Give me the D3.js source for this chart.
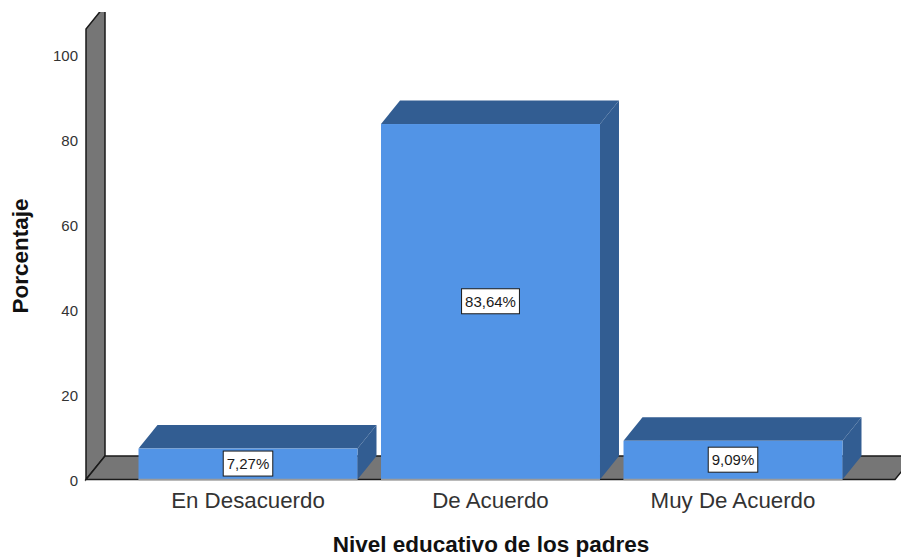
<!DOCTYPE html>
<html>
<head>
<meta charset="utf-8">
<script src="https://cdn.jsdelivr.net/npm/d3@7"></script>
<style>
  html, body { margin: 0; padding: 0; background: #fff; }
  text { font-family: "Liberation Sans", Arial, sans-serif; }
</style>
</head>
<body>
<svg id="chart"></svg>
<script>
const categories = ["En Desacuerdo", "De Acuerdo", "Muy De Acuerdo"];
const percentages = [7.27, 83.64, 9.09];
const percentLabels = ["7,27%", "83,64%", "9,09%"];
const yTicks = [0, 20, 40, 60, 80, 100];

const width = 901, height = 557;
// 3d offset of the back edge
const depthX = 19, depthY = -23.5;
const wallTop = 106;

const svg = d3.select("#chart")
    .attr("width", width)
    .attr("height", height)
    .style("display", "block");

// picture is cut at the top and the right
svg.append("clipPath").attr("id", "plotClip")
    .append("rect")
    .attr("x", 0).attr("y", 12)
    .attr("width", width).attr("height", height - 12);

const x = d3.scaleBand()
    .domain(categories)
    .range([126.75, 854.25])
    .paddingInner(0.097)
    .paddingOuter(0.0485);

const y = d3.scaleLinear()
    .domain([0, 100])
    .range([479.5, 54.5]);

const floorLeft = 86, floorRight = 895;
const chart = svg.append("g").attr("clip-path", "url(#plotClip)");
const poly = pts => pts.map(p => p.join(",")).join(" ");

// left wall
chart.append("polygon")
    .attr("points", poly([
        [floorLeft, y(0)],
        [floorLeft, y(wallTop)],
        [floorLeft + depthX, y(wallTop) + depthY],
        [floorLeft + depthX, y(0) + depthY]
    ]))
    .attr("fill", "#767676")
    .attr("stroke", "#1a1a1a")
    .attr("stroke-width", 1.5);

// floor
chart.append("polygon")
    .attr("points", poly([
        [floorLeft, y(0)],
        [floorLeft + depthX, y(0) + depthY],
        [floorRight + depthX, y(0) + depthY],
        [floorRight, y(0)]
    ]))
    .attr("fill", "#767676")
    .attr("stroke", "#1a1a1a")
    .attr("stroke-width", 1.5);

// bars
const bar = chart.append("g")
    .selectAll("g")
    .data(categories)
    .join("g");

const val = i => percentages[i];

// top face
bar.append("polygon")
    .attr("points", (d, i) => {
        const x0 = x(d), x1 = x(d) + x.bandwidth(), t = y(val(i));
        return poly([[x0, t], [x0 + depthX, t + depthY], [x1 + depthX, t + depthY], [x1, t]]);
    })
    .attr("fill", "#325D92");

// side face
bar.append("polygon")
    .attr("points", (d, i) => {
        const x1 = x(d) + x.bandwidth(), t = y(val(i));
        return poly([[x1, t], [x1 + depthX, t + depthY], [x1 + depthX, y(0) + depthY], [x1, y(0)]]);
    })
    .attr("fill", "#325D92");

// front face
bar.append("rect")
    .attr("x", d => x(d))
    .attr("y", (d, i) => y(val(i)))
    .attr("width", x.bandwidth())
    .attr("height", (d, i) => y(0) - y(val(i)))
    .attr("fill", "#5294E6");

// grey line along the bottom of each bar
bar.append("line")
    .attr("x1", d => x(d))
    .attr("x2", d => x(d) + x.bandwidth())
    .attr("y1", y(0))
    .attr("y2", y(0))
    .attr("stroke", "#9a9a9a")
    .attr("stroke-width", 1.5);

// value labels
const label = svg.append("g")
    .selectAll("g")
    .data(categories)
    .join("g")
    .attr("transform", (d, i) =>
        `translate(${x(d) + x.bandwidth() / 2},${(y(val(i)) + y(0)) / 2 - 0.5})`);

label.append("text")
    .attr("text-anchor", "middle")
    .attr("dy", "0.36em")
    .style("font-size", "15px")
    .style("fill", "#1a1a1a")
    .text((d, i) => percentLabels[i]);

label.insert("rect", "text")
    .each(function () {
        const t = d3.select(this.parentNode).select("text").node().getBBox();
        d3.select(this)
            .attr("x", t.x - 3.5)
            .attr("y", -12.5)
            .attr("width", t.width + 7)
            .attr("height", 25);
    })
    .attr("fill", "#fff")
    .attr("stroke", "#1a1a1a")
    .attr("stroke-width", 1);

// y axis
const yAxis = svg.append("g")
    .attr("transform", `translate(${floorLeft},1)`)
    .call(d3.axisLeft(y).tickValues(yTicks).tickSize(0).tickPadding(8));
yAxis.select(".domain").remove();
yAxis.selectAll("text")
    .style("font-size", "15px")
    .style("fill", "#333");

// x axis
const xAxis = svg.append("g")
    .attr("transform", `translate(0,${y(0)})`)
    .call(d3.axisBottom(x).tickSize(0).tickPadding(13));
xAxis.select(".domain").remove();
xAxis.selectAll("text")
    .style("font-size", "22.3px")
    .style("fill", "#333");

// axis titles
svg.append("text")
    .attr("x", 491)
    .attr("y", 552)
    .attr("text-anchor", "middle")
    .style("font-size", "22.5px")
    .style("font-weight", "bold")
    .style("fill", "#111")
    .text("Nivel educativo de los padres");

svg.append("text")
    .attr("transform", "translate(28,256) rotate(-90)")
    .attr("text-anchor", "middle")
    .style("font-size", "22.5px")
    .style("font-weight", "bold")
    .style("fill", "#111")
    .text("Porcentaje");
</script>
</body>
</html>
